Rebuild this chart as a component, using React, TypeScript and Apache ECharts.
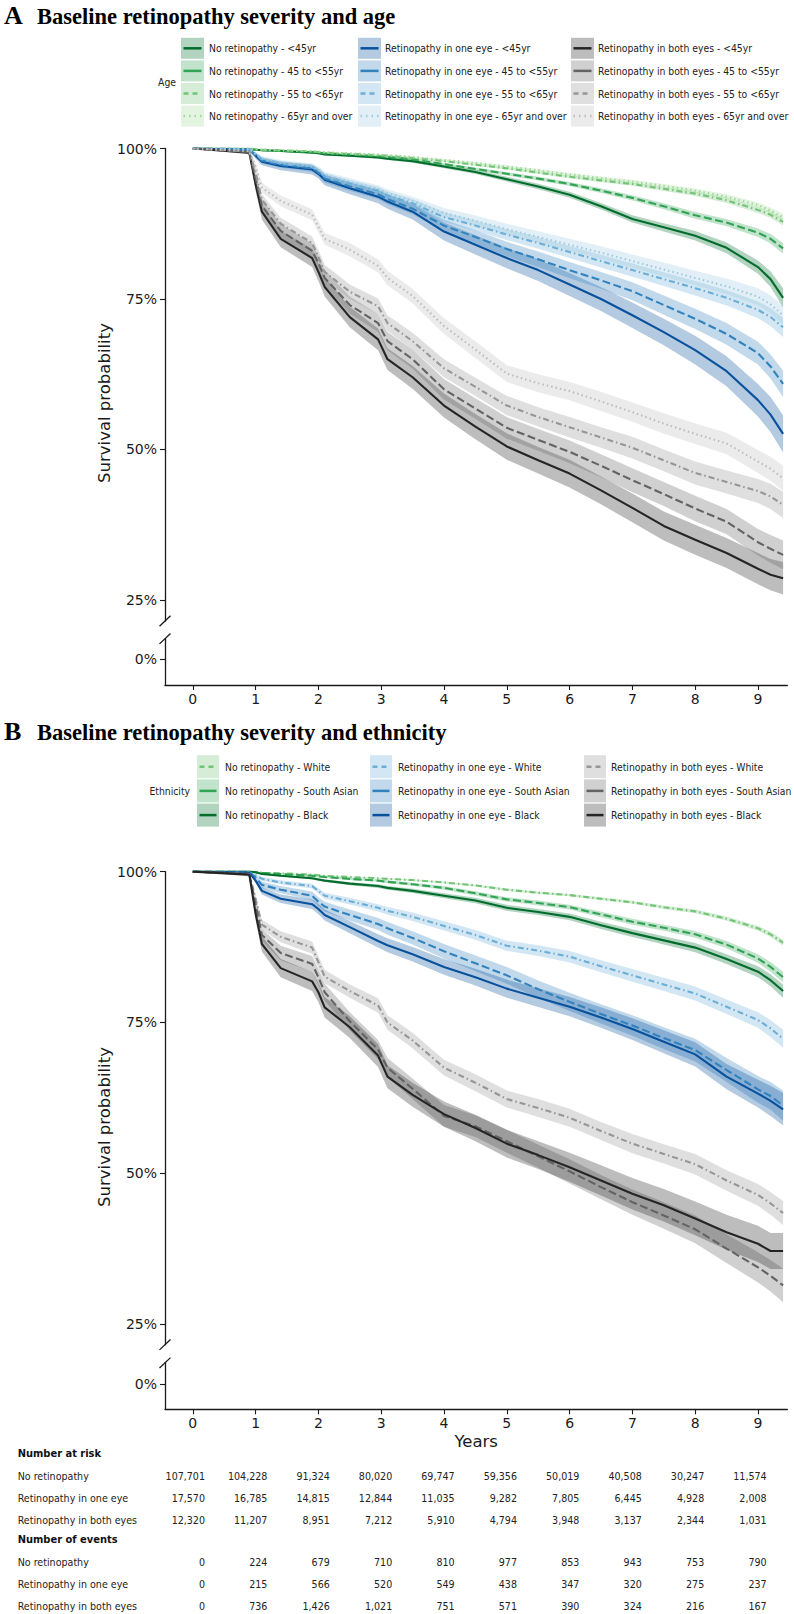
import React, { useEffect, useRef } from "react";
import * as echarts from "echarts";

// ---------- time grid (years) shared by all curves ----------
const TIMES = [0, 0.9, 1.0, 1.1, 1.4, 1.9, 2.0, 2.1, 2.5, 2.95, 3.1, 3.5, 4.0, 4.5, 5.0, 5.5, 6.0, 6.5, 7.0, 7.5, 8.0, 8.5, 9.0, 9.2, 9.4];
const X_TICKS = [0, 1, 2, 3, 4, 5, 6, 7, 8, 9];
const Y_TICKS_UPPER = [0.25, 0.5, 0.75, 1.0];
const Y_TICKS_LOWER = [0];

// ---------- Panel A: severity x age (survival %, CI half-width %) ----------
const A_NO_LT45 = [100, 99.9, 99.8, 99.7, 99.6, 99.3, 99.2, 99.0, 98.8, 98.5, 98.3, 97.9, 97.0, 96.1, 94.9, 93.7, 92.3, 90.4, 88.3, 86.9, 85.5, 83.5, 80.3, 78.3, 75.2];
const A_NO_45 = [100, 99.9, 99.8, 99.7, 99.6, 99.4, 99.3, 99.2, 99.0, 98.7, 98.6, 98.2, 97.4, 96.6, 95.8, 95.0, 94.1, 93.0, 91.8, 90.4, 88.9, 87.7, 86.0, 85.0, 83.4];
const A_NO_55 = [100, 100, 99.9, 99.8, 99.7, 99.5, 99.4, 99.3, 99.1, 98.9, 98.8, 98.4, 97.9, 97.3, 96.7, 96.0, 95.3, 94.7, 94.1, 93.3, 92.5, 91.4, 89.8, 89.0, 87.8];
const A_NO_65 = [100, 100, 99.9, 99.8, 99.7, 99.6, 99.5, 99.4, 99.2, 99.0, 98.9, 98.6, 98.1, 97.6, 97.0, 96.4, 95.7, 95.1, 94.5, 93.8, 93.0, 92.0, 90.6, 89.7, 88.6];
const A_ONE_LT45 = [100, 99.8, 98.8, 97.8, 97.1, 96.5, 95.8, 94.8, 93.4, 92.0, 91.2, 89.5, 86.2, 84.0, 81.8, 79.8, 77.4, 75.0, 72.3, 69.5, 66.5, 63.0, 58.2, 55.8, 52.6];
const A_ONE_45 = [100, 99.8, 98.9, 98.0, 97.3, 96.7, 96.0, 95.0, 93.7, 92.4, 91.6, 90.0, 87.2, 85.3, 83.3, 81.6, 79.8, 78.1, 76.3, 74.0, 71.7, 69.2, 66.0, 63.8, 60.9];
const A_ONE_55 = [100, 99.9, 99.0, 98.2, 97.5, 96.9, 96.3, 95.4, 94.2, 93.0, 92.2, 90.9, 88.6, 87.2, 85.7, 84.3, 82.8, 81.3, 79.8, 78.3, 76.8, 75.2, 73.2, 72.0, 70.3];
const A_ONE_65 = [100, 99.9, 99.1, 98.4, 97.7, 97.1, 96.5, 95.7, 94.5, 93.3, 92.6, 91.3, 89.3, 88.0, 86.6, 85.3, 84.0, 82.7, 81.3, 79.9, 78.5, 77.1, 75.4, 74.1, 72.3];
const A_BOTH_LT45 = [100, 99.3, 94.0, 89.5, 85.0, 81.8, 79.5, 77.0, 72.0, 68.3, 65.0, 62.0, 57.3, 53.8, 50.5, 48.2, 46.0, 43.2, 40.3, 37.3, 35.0, 32.8, 30.2, 29.2, 28.6];
const A_BOTH_45 = [100, 99.4, 95.0, 90.5, 86.3, 83.0, 81.0, 78.5, 74.0, 71.0, 68.0, 65.0, 60.0, 56.8, 53.6, 51.6, 49.6, 47.3, 44.9, 42.6, 40.2, 38.0, 34.6, 33.5, 32.5];
const A_BOTH_55 = [100, 99.5, 96.0, 91.5, 87.5, 84.3, 82.0, 79.5, 76.2, 73.8, 71.0, 68.0, 63.5, 60.4, 57.3, 55.4, 53.7, 52.0, 50.3, 48.2, 46.1, 44.6, 43.1, 42.2, 40.8];
const A_BOTH_65 = [100, 99.6, 97.0, 93.5, 91.3, 89.0, 87.0, 85.0, 83.2, 80.5, 78.5, 75.5, 70.5, 66.6, 62.6, 61.0, 59.7, 58.0, 56.2, 54.3, 52.6, 51.0, 48.0, 46.8, 45.2];

const A_NO_LT45_CI = [0, 0.05, 0.05, 0.05, 0.1, 0.1, 0.1, 0.1, 0.15, 0.2, 0.2, 0.25, 0.3, 0.35, 0.4, 0.45, 0.5, 0.55, 0.6, 0.7, 0.8, 0.9, 1.1, 1.3, 1.6];
const A_NO_45_CI = [0, 0, 0, 0.05, 0.05, 0.1, 0.1, 0.1, 0.1, 0.15, 0.15, 0.2, 0.2, 0.25, 0.3, 0.3, 0.35, 0.4, 0.45, 0.5, 0.55, 0.6, 0.7, 0.8, 0.9];
const A_NO_55_CI = [0, 0, 0, 0.05, 0.05, 0.05, 0.05, 0.1, 0.1, 0.1, 0.1, 0.15, 0.15, 0.2, 0.2, 0.25, 0.25, 0.3, 0.3, 0.35, 0.4, 0.45, 0.5, 0.55, 0.6];
const A_NO_65_CI = [0, 0, 0, 0, 0.05, 0.05, 0.05, 0.05, 0.1, 0.1, 0.1, 0.1, 0.15, 0.15, 0.2, 0.2, 0.25, 0.25, 0.3, 0.3, 0.35, 0.4, 0.45, 0.5, 0.55];
const A_ONE_LT45_CI = [0, 0.2, 0.5, 0.6, 0.7, 0.8, 0.8, 0.9, 1.0, 1.1, 1.2, 1.3, 1.5, 1.6, 1.7, 1.8, 1.9, 2.0, 2.1, 2.2, 2.4, 2.5, 2.7, 2.9, 3.1];
const A_ONE_45_CI = [0, 0.1, 0.35, 0.45, 0.5, 0.55, 0.6, 0.65, 0.7, 0.8, 0.85, 0.9, 1.0, 1.1, 1.2, 1.3, 1.35, 1.4, 1.5, 1.6, 1.7, 1.8, 1.9, 2.0, 2.2];
const A_ONE_55_CI = [0, 0.1, 0.3, 0.35, 0.4, 0.45, 0.5, 0.5, 0.55, 0.6, 0.65, 0.7, 0.8, 0.85, 0.9, 0.95, 1.0, 1.05, 1.1, 1.15, 1.2, 1.3, 1.4, 1.5, 1.6];
const A_ONE_65_CI = [0, 0.1, 0.3, 0.35, 0.4, 0.45, 0.5, 0.5, 0.55, 0.6, 0.65, 0.7, 0.8, 0.85, 0.9, 0.95, 1.0, 1.05, 1.1, 1.15, 1.2, 1.3, 1.4, 1.5, 1.6];
const A_BOTH_LT45_CI = [0, 0.3, 1.0, 1.3, 1.4, 1.5, 1.5, 1.6, 1.7, 1.8, 1.8, 1.9, 2.0, 2.1, 2.2, 2.2, 2.3, 2.3, 2.4, 2.4, 2.5, 2.5, 2.6, 2.6, 2.7];
const A_BOTH_45_CI = [0, 0.25, 0.8, 1.0, 1.1, 1.2, 1.2, 1.3, 1.4, 1.5, 1.5, 1.6, 1.7, 1.7, 1.8, 1.8, 1.9, 1.9, 2.0, 2.0, 2.1, 2.1, 2.2, 2.3, 2.4];
const A_BOTH_55_CI = [0, 0.2, 0.7, 0.9, 1.0, 1.1, 1.1, 1.2, 1.2, 1.3, 1.3, 1.4, 1.5, 1.5, 1.6, 1.6, 1.7, 1.7, 1.8, 1.8, 1.9, 1.9, 2.0, 2.1, 2.2];
const A_BOTH_65_CI = [0, 0.2, 0.6, 0.8, 0.9, 0.9, 1.0, 1.0, 1.1, 1.1, 1.2, 1.2, 1.3, 1.4, 1.4, 1.5, 1.5, 1.6, 1.6, 1.7, 1.7, 1.8, 1.9, 2.0, 2.1];

// ---------- Panel B: severity x ethnicity ----------
const B_NO_WHITE = [100, 100, 99.9, 99.8, 99.7, 99.5, 99.4, 99.3, 99.1, 98.9, 98.8, 98.6, 98.2, 97.7, 97.0, 96.5, 96.1, 95.5, 94.9, 94.1, 93.4, 92.2, 90.6, 89.6, 88.2];
const B_NO_SA = [100, 100, 99.9, 99.8, 99.6, 99.3, 99.2, 99.1, 98.8, 98.5, 98.3, 97.9, 97.3, 96.4, 95.4, 94.8, 94.1, 92.9, 91.7, 90.7, 89.6, 87.9, 85.6, 84.2, 82.5];
const B_NO_BLACK = [100, 100, 99.9, 99.6, 99.3, 98.9, 98.7, 98.5, 98.0, 97.6, 97.3, 96.8, 96.0, 95.2, 94.0, 93.3, 92.5, 91.1, 89.8, 88.6, 87.4, 85.5, 83.4, 82.0, 80.2];
const B_ONE_WHITE = [100, 99.9, 99.4, 98.8, 98.2, 97.6, 96.8, 96.0, 95.1, 94.0, 93.5, 92.5, 91.0, 89.5, 87.7, 86.9, 85.9, 84.3, 82.8, 81.3, 79.8, 77.6, 75.4, 74.0, 72.3];
const B_ONE_SA = [100, 99.9, 99.0, 97.8, 97.0, 96.0, 95.0, 94.2, 92.8, 91.3, 90.6, 89.0, 86.8, 84.8, 82.8, 80.5, 78.4, 76.4, 74.5, 72.4, 70.4, 67.1, 63.9, 62.8, 61.2];
const B_ONE_BLACK = [100, 99.8, 98.5, 96.8, 95.5, 94.6, 93.8, 92.8, 90.8, 88.5, 87.8, 86.3, 84.2, 82.5, 80.6, 79.1, 77.6, 75.8, 73.9, 71.8, 69.7, 66.0, 63.2, 62.0, 60.6];
const B_BOTH_WHITE = [100, 99.6, 95.5, 91.2, 89.2, 87.4, 85.0, 82.6, 80.2, 77.8, 75.0, 72.0, 67.5, 65.0, 62.3, 60.8, 59.2, 57.0, 54.9, 53.2, 51.5, 48.8, 46.4, 45.0, 43.4];
const B_BOTH_SA = [100, 99.6, 94.5, 89.5, 86.5, 84.7, 82.5, 80.0, 75.2, 70.5, 67.5, 64.0, 59.5, 57.8, 55.3, 52.8, 50.3, 47.7, 45.2, 43.0, 40.7, 37.5, 34.4, 33.0, 31.4];
const B_BOTH_BLACK = [100, 99.5, 93.0, 88.0, 84.0, 81.8, 80.0, 77.5, 74.2, 69.5, 66.0, 63.0, 59.8, 57.5, 54.9, 53.0, 51.0, 48.8, 46.6, 44.7, 42.5, 40.2, 38.3, 37.1, 37.1];

const B_NO_WHITE_CI = [0, 0, 0, 0.05, 0.05, 0.05, 0.05, 0.1, 0.1, 0.1, 0.1, 0.15, 0.15, 0.15, 0.2, 0.2, 0.2, 0.25, 0.25, 0.3, 0.3, 0.35, 0.4, 0.45, 0.5];
const B_NO_SA_CI = [0, 0, 0.05, 0.05, 0.1, 0.15, 0.15, 0.15, 0.2, 0.2, 0.25, 0.25, 0.3, 0.35, 0.35, 0.4, 0.4, 0.45, 0.5, 0.5, 0.55, 0.6, 0.7, 0.8, 0.9];
const B_NO_BLACK_CI = [0, 0, 0.05, 0.1, 0.15, 0.2, 0.2, 0.2, 0.25, 0.3, 0.3, 0.35, 0.4, 0.45, 0.5, 0.5, 0.55, 0.6, 0.65, 0.7, 0.75, 0.8, 0.9, 1.0, 1.1];
const B_ONE_WHITE_CI = [0, 0.05, 0.2, 0.3, 0.35, 0.4, 0.45, 0.5, 0.55, 0.6, 0.65, 0.7, 0.75, 0.8, 0.85, 0.9, 0.95, 1.0, 1.05, 1.1, 1.15, 1.2, 1.3, 1.4, 1.5];
const B_ONE_SA_CI = [0, 0.1, 0.35, 0.5, 0.6, 0.7, 0.75, 0.8, 0.9, 1.0, 1.05, 1.1, 1.2, 1.3, 1.4, 1.45, 1.5, 1.6, 1.7, 1.8, 1.9, 2.0, 2.2, 2.3, 2.5];
const B_ONE_BLACK_CI = [0, 0.1, 0.4, 0.6, 0.7, 0.8, 0.85, 0.9, 1.0, 1.1, 1.15, 1.2, 1.3, 1.4, 1.5, 1.55, 1.6, 1.7, 1.8, 1.9, 2.0, 2.1, 2.3, 2.5, 2.7];
const B_BOTH_WHITE_CI = [0, 0.2, 0.6, 0.8, 0.9, 1.0, 1.0, 1.1, 1.1, 1.2, 1.2, 1.3, 1.3, 1.4, 1.4, 1.5, 1.5, 1.5, 1.6, 1.6, 1.7, 1.7, 1.8, 1.9, 2.0];
const B_BOTH_SA_CI = [0, 0.25, 0.8, 1.0, 1.2, 1.3, 1.3, 1.4, 1.5, 1.6, 1.6, 1.7, 1.8, 1.8, 1.9, 1.9, 2.0, 2.0, 2.1, 2.2, 2.3, 2.4, 2.5, 2.6, 2.8];
const B_BOTH_BLACK_CI = [0, 0.3, 1.0, 1.3, 1.5, 1.6, 1.6, 1.7, 1.8, 1.9, 1.9, 2.0, 2.1, 2.2, 2.3, 2.3, 2.4, 2.5, 2.6, 2.7, 2.8, 2.9, 3.0, 3.0, 3.0];

// ---------- risk table ----------
const TABLE_ROWS = ["No retinopathy", "Retinopathy in one eye", "Retinopathy in both eyes"];
const AT_RISK_NO = [107701, 104228, 91324, 80020, 69747, 59356, 50019, 40508, 30247, 11574];
const AT_RISK_ONE = [17570, 16785, 14815, 12844, 11035, 9282, 7805, 6445, 4928, 2008];
const AT_RISK_BOTH = [12320, 11207, 8951, 7212, 5910, 4794, 3948, 3137, 2344, 1031];
const EVENTS_NO = [0, 224, 679, 710, 810, 977, 853, 943, 753, 790];
const EVENTS_ONE = [0, 215, 566, 520, 549, 438, 347, 320, 275, 237];
const EVENTS_BOTH = [0, 736, 1426, 1021, 751, 571, 390, 324, 216, 167];

// ---------- styling ----------
const GREENS = ["#006d2c", "#31a354", "#74c476", "#a1d99b"];
const BLUES = ["#08519c", "#3182bd", "#6baed6", "#9ecae1"];
const GREYS = ["#252525", "#636363", "#969696", "#bdbdbd"];
const DASH: any = { solid: "solid", longdash: [8, 3.5], dotdash: [6, 3, 1.5, 3], dotted: [1.5, 3] };
const LEGEND_DASH: any = { solid: null, longdash: null, dotdash: [5, 4], dotted: [1.5, 4] };

const X_MIN = -0.443;
const X_MAX = 9.467;
const GRID_LEFT = 165;
const GRID_RIGHT = 794 - 787.3;

const PANELS = [
  { upperTop: 148.5, upperBottom: 621, lowerTop: 638.7, lowerBottom: 685, upperMin: 0.2151, lowerMin: -0.0427, lowerMax: 0.0342 },
  { upperTop: 871.6, upperBottom: 1344.7, lowerTop: 1362.8, lowerBottom: 1409.3, upperMin: 0.2157, lowerMin: -0.0414, lowerMax: 0.0356 },
];

const SERIES_A = [
  { name: "No retinopathy - <45yr", v: A_NO_LT45, ci: A_NO_LT45_CI, color: GREENS[0], dash: "solid" },
  { name: "No retinopathy - 45 to <55yr", v: A_NO_45, ci: A_NO_45_CI, color: GREENS[1], dash: "longdash" },
  { name: "No retinopathy - 55 to <65yr", v: A_NO_55, ci: A_NO_55_CI, color: GREENS[2], dash: "dotdash" },
  { name: "No retinopathy - 65yr and over", v: A_NO_65, ci: A_NO_65_CI, color: GREENS[3], dash: "dotted" },
  { name: "Retinopathy in one eye - <45yr", v: A_ONE_LT45, ci: A_ONE_LT45_CI, color: BLUES[0], dash: "solid" },
  { name: "Retinopathy in one eye - 45 to <55yr", v: A_ONE_45, ci: A_ONE_45_CI, color: BLUES[1], dash: "longdash" },
  { name: "Retinopathy in one eye - 55 to <65yr", v: A_ONE_55, ci: A_ONE_55_CI, color: BLUES[2], dash: "dotdash" },
  { name: "Retinopathy in one eye - 65yr and over", v: A_ONE_65, ci: A_ONE_65_CI, color: BLUES[3], dash: "dotted" },
  { name: "Retinopathy in both eyes - <45yr", v: A_BOTH_LT45, ci: A_BOTH_LT45_CI, color: GREYS[0], dash: "solid" },
  { name: "Retinopathy in both eyes - 45 to <55yr", v: A_BOTH_45, ci: A_BOTH_45_CI, color: GREYS[1], dash: "longdash" },
  { name: "Retinopathy in both eyes - 55 to <65yr", v: A_BOTH_55, ci: A_BOTH_55_CI, color: GREYS[2], dash: "dotdash" },
  { name: "Retinopathy in both eyes - 65yr and over", v: A_BOTH_65, ci: A_BOTH_65_CI, color: GREYS[3], dash: "dotted" },
];

const SERIES_B = [
  { name: "No retinopathy - White", v: B_NO_WHITE, ci: B_NO_WHITE_CI, color: GREENS[2], dash: "dotdash" },
  { name: "No retinopathy - South Asian", v: B_NO_SA, ci: B_NO_SA_CI, color: GREENS[1], dash: "longdash" },
  { name: "No retinopathy - Black", v: B_NO_BLACK, ci: B_NO_BLACK_CI, color: GREENS[0], dash: "solid" },
  { name: "Retinopathy in one eye - White", v: B_ONE_WHITE, ci: B_ONE_WHITE_CI, color: BLUES[2], dash: "dotdash" },
  { name: "Retinopathy in one eye - South Asian", v: B_ONE_SA, ci: B_ONE_SA_CI, color: BLUES[1], dash: "longdash" },
  { name: "Retinopathy in one eye - Black", v: B_ONE_BLACK, ci: B_ONE_BLACK_CI, color: BLUES[0], dash: "solid" },
  { name: "Retinopathy in both eyes - White", v: B_BOTH_WHITE, ci: B_BOTH_WHITE_CI, color: GREYS[2], dash: "dotdash" },
  { name: "Retinopathy in both eyes - South Asian", v: B_BOTH_SA, ci: B_BOTH_SA_CI, color: GREYS[1], dash: "longdash" },
  { name: "Retinopathy in both eyes - Black", v: B_BOTH_BLACK, ci: B_BOTH_BLACK_CI, color: GREYS[0], dash: "solid" },
];

const AXIS_COLOR = "#1a1a1a";
const SANS = "DejaVu Sans";
const COND = '"DejaVu Sans Condensed", "Liberation Sans Narrow", "DejaVu Sans"';
const SERIF = '"Liberation Serif", "Times New Roman", serif';
const LEGEND_FONT = 10.3;
const TABLE_FONT = 10.6;

function rgba(hex: string, a: number) {
  const n = parseInt(hex.slice(1), 16);
  return `rgba(${(n >> 16) & 255},${(n >> 8) & 255},${n & 255},${a})`;
}

function buildOption() {
  const grid: any[] = [];
  const xAxis: any[] = [];
  const yAxis: any[] = [];
  const series: any[] = [];
  const graphic: any[] = [];

  PANELS.forEach((p, pi) => {
    const gU = grid.length;
    grid.push({ left: GRID_LEFT, right: GRID_RIGHT, top: p.upperTop, height: p.upperBottom - p.upperTop });
    grid.push({ left: GRID_LEFT, right: GRID_RIGHT, top: p.lowerTop, height: p.lowerBottom - p.lowerTop });
    const gL = gU + 1;
    xAxis.push({ type: "value", gridIndex: gU, min: X_MIN, max: X_MAX, show: false });
    xAxis.push({
      type: "value", gridIndex: gL, min: X_MIN, max: X_MAX,
      axisLine: { show: true, onZero: false, lineStyle: { color: AXIS_COLOR, width: 1.3 } },
      axisTick: { show: true, customValues: X_TICKS, length: 5, lineStyle: { color: AXIS_COLOR, width: 1.1 } },
      axisLabel: { customValues: X_TICKS, fontSize: 14, fontFamily: SANS, color: AXIS_COLOR, margin: 7 },
      splitLine: { show: false },
    });
    yAxis.push({
      type: "value", gridIndex: gU, min: p.upperMin, max: 1,
      axisLine: { show: true, onZero: false, lineStyle: { color: AXIS_COLOR, width: 1.3 } },
      axisTick: { show: true, customValues: Y_TICKS_UPPER, length: 5, lineStyle: { color: AXIS_COLOR, width: 1.1 } },
      axisLabel: { customValues: Y_TICKS_UPPER, fontSize: 14, fontFamily: SANS, color: AXIS_COLOR, margin: 8, formatter: (v: number) => Math.round(v * 100) + "%" },
      splitLine: { show: false },
    });
    yAxis.push({
      type: "value", gridIndex: gL, min: p.lowerMin, max: p.lowerMax,
      axisLine: { show: true, onZero: false, lineStyle: { color: AXIS_COLOR, width: 1.3 } },
      axisTick: { show: true, customValues: Y_TICKS_LOWER, length: 5, lineStyle: { color: AXIS_COLOR, width: 1.1 } },
      axisLabel: { customValues: Y_TICKS_LOWER, fontSize: 14, fontFamily: SANS, color: AXIS_COLOR, margin: 8, formatter: (v: number) => Math.round(v * 100) + "%" },
      splitLine: { show: false },
    });

    const list = pi === 0 ? SERIES_A : SERIES_B;
    // confidence bands
    list.forEach((s) => {
      series.push({
        type: "custom", xAxisIndex: gU, yAxisIndex: gU, clip: true, silent: true, z: 1,
        data: [[0, 0.5]],
        renderItem: (_params: any, api: any) => {
          const up = TIMES.map((t, i) => api.coord([t, (s.v[i] + s.ci[i]) / 100]));
          const lo = TIMES.map((t, i) => api.coord([t, (s.v[i] - s.ci[i]) / 100])).reverse();
          return { type: "polygon", shape: { points: up.concat(lo) }, style: { fill: rgba(s.color, 0.3) } };
        },
      });
    });
    // survival lines
    list.forEach((s) => {
      series.push({
        type: "line", name: s.name, xAxisIndex: gU, yAxisIndex: gU, z: 3,
        showSymbol: false, symbol: "none", clip: true, silent: true,
        data: TIMES.map((t, i) => [t, s.v[i] / 100]),
        lineStyle: { color: s.color, width: 2.1, type: DASH[s.dash] },
      });
    });

    // axis break marks
    [p.upperBottom, p.lowerTop].forEach((yb) => {
      graphic.push({ type: "line", shape: { x1: GRID_LEFT - 5.5, y1: yb + 5.2, x2: GRID_LEFT + 5.5, y2: yb - 5.2 }, style: { stroke: AXIS_COLOR, lineWidth: 1.3 } });
    });

    // y-axis title
    graphic.push({
      type: "text", x: 104, y: pi === 0 ? 403 : 1127, rotation: Math.PI / 2,
      style: { text: "Survival probability", fontSize: 16.5, fontFamily: SANS, fill: AXIS_COLOR, align: "center", verticalAlign: "middle" },
    });
  });

  // titles
  const titles = [
    { letter: "A", text: "Baseline retinopathy severity and age", y: 15 },
    { letter: "B", text: "Baseline retinopathy severity and ethnicity", y: 731 },
  ];
  titles.forEach((t) => {
    graphic.push({ type: "text", x: 4, y: t.y, style: { text: t.letter, fontSize: 26, fontWeight: "bold", fontFamily: SERIF, fill: "#000", align: "left", verticalAlign: "middle" } });
    graphic.push({ type: "text", x: 37, y: t.y + 1, style: { text: t.text, fontSize: 22.5, fontWeight: "bold", fontFamily: SERIF, fill: "#000", align: "left", verticalAlign: "middle" } });
  });

  // legends
  const legends = [
    { list: SERIES_A, rows: 4, boxX: [181, 358, 571], textX: [209, 385, 598], y0: 48.3, pitch: 22.6, boxW: 23, boxH: 21, label: "Age", labelX: 176 },
    { list: SERIES_B, rows: 3, boxX: [197, 370, 584], textX: [225, 398, 611], y0: 766.7, pitch: 24.2, boxW: 22, boxH: 23, label: "Ethnicity", labelX: 190 },
  ];
  legends.forEach((L) => {
    L.list.forEach((s, idx) => {
      const col = Math.floor(idx / L.rows);
      const row = idx % L.rows;
      const cy = L.y0 + row * L.pitch;
      const bx = L.boxX[col];
      graphic.push({ type: "rect", shape: { x: bx, y: cy - L.boxH / 2, width: L.boxW, height: L.boxH }, style: { fill: rgba(s.color, 0.3) } });
      const ld = LEGEND_DASH[s.dash];
      graphic.push({ type: "line", shape: { x1: bx + 2.5, y1: cy, x2: bx + L.boxW - 2.5, y2: cy }, style: { stroke: s.color, lineWidth: 2.5, lineDash: ld || undefined } });
      graphic.push({ type: "text", x: L.textX[col], y: cy, style: { text: s.name, fontSize: LEGEND_FONT, fontFamily: COND, fill: "#222", align: "left", verticalAlign: "middle" } });
    });
    const midY = L.y0 + ((L.rows - 1) * L.pitch) / 2;
    graphic.push({ type: "text", x: L.labelX, y: midY, style: { text: L.label, fontSize: LEGEND_FONT, fontFamily: COND, fill: "#222", align: "right", verticalAlign: "middle" } });
  });

  // x-axis title (panel B)
  graphic.push({ type: "text", x: (GRID_LEFT + 787.3) / 2, y: 1441.7, style: { text: "Years", fontSize: 16.5, fontFamily: SANS, fill: AXIS_COLOR, align: "center", verticalAlign: "middle" } });

  // risk table
  const blocks = [
    { header: "Number at risk", y: 1453.3, rows: [AT_RISK_NO, AT_RISK_ONE, AT_RISK_BOTH] },
    { header: "Number of events", y: 1539.3, rows: [EVENTS_NO, EVENTS_ONE, EVENTS_BOTH] },
  ];
  const pitch = 22.3;
  blocks.forEach((b) => {
    graphic.push({ type: "text", x: 17.7, y: b.y, style: { text: b.header, fontSize: TABLE_FONT + 0.4, fontWeight: "bold", fontFamily: COND, fill: "#111", align: "left", verticalAlign: "middle" } });
    b.rows.forEach((vals, ri) => {
      const y = b.y + (ri + 1) * pitch;
      graphic.push({ type: "text", x: 17.7, y, style: { text: TABLE_ROWS[ri], fontSize: TABLE_FONT, fontFamily: COND, fill: "#222", align: "left", verticalAlign: "middle" } });
      vals.forEach((v, ci) => {
        graphic.push({ type: "text", x: 205 + ci * 62.4, y, style: { text: v.toLocaleString("en-US"), fontSize: TABLE_FONT, fontFamily: COND, fill: "#222", align: "right", verticalAlign: "middle" } });
      });
    });
  });

  return { animation: false, backgroundColor: "#ffffff", grid, xAxis, yAxis, series, graphic };
}

export default function App() {
  const ref = useRef<HTMLDivElement>(null);
  useEffect(() => {
    if (!ref.current) return;
    const chart = echarts.init(ref.current, undefined, { renderer: "svg" });
    chart.setOption(buildOption() as any);
    return () => chart.dispose();
  }, []);
  return <div ref={ref} style={{ position: "absolute", left: 0, top: 0, width: 794, height: 1614 }} />;
}
